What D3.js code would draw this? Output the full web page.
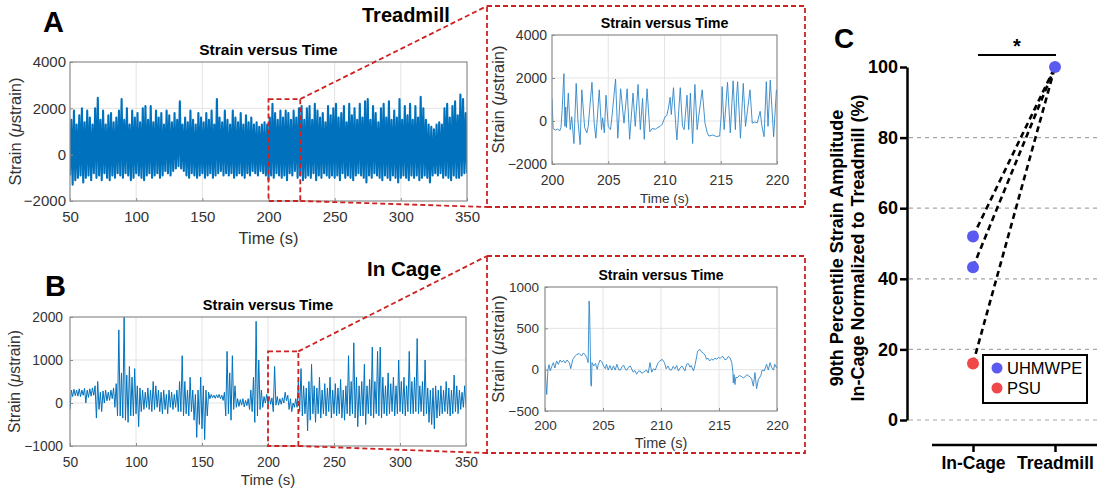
<!DOCTYPE html>
<html>
<head>
<meta charset="utf-8">
<script src="https://cdn.jsdelivr.net/npm/d3@7"></script>
<style>
  body { margin: 0; background: #fff; }
  text { font-family: "Liberation Sans", Arial, sans-serif; }
</style>
</head>
<body>
<div id="vizcontainer"></div>
<script>

// ---- data ----

// panels A/B overview: 2 s bins from 50 s, max and min strain per bin
const binStart = 50, binStep = 2;

const treadHi = [
  1500, 1900, 1300, 1700, 2000, 1400, 1900, 1600, 1300, 2000,
  2450, 1500, 1900, 1300, 1700, 1800, 1400, 1600, 1900, 2400,
  1500, 2000, 1300, 1900, 1600, 1800, 1400, 2000, 2100, 1500,
  2100, 1400, 1900, 1600, 1800, 1300, 1900, 1700, 1400, 1800,
  1500, 2300, 1300, 1600, 1400, 1900, 1500, 1300, 1800, 1600,
  1400, 1800, 1500, 1900, 1300, 2400, 1600, 1400, 1900, 1500,
  1300, 1900, 1600, 1400, 1800, 1300, 1700, 1400, 1600, 1300,
  1400, 1200, 1300, 1400, 1300, 1600, 2200, 1800, 1500, 1900,
  1600, 1900, 1800, 1500, 1900, 1600, 2000, 2100, 1500, 2000,
  2100, 1500, 2200, 1900, 1600, 1800, 1400, 2100, 1700, 2000,
  2200, 1600, 1800, 2100, 1400, 2200, 1700, 2000, 1500, 2200,
  1600, 2300, 2400, 1500, 2100, 1800, 1400, 2000, 2200, 1600,
  2300, 1500, 1900, 1600, 2400, 1500, 2100, 1700, 2200, 1500,
  2100, 1600, 2500, 2000, 1500, 1300, 1200, 1100, 1300, 1400,
  1300, 2000, 2200, 1600, 2100, 2300, 1700, 2600, 2400, 1800
];
const treadLo = [
  -900, -1300, -1100, -1000, -900, -1200, -1000, -900, -1100, -800,
  -1000, -900, -1100, -800, -1000, -1100, -900, -1000, -800, -900,
  -1000, -800, -900, -1100, -1000, -800, -900, -1000, -1100, -900,
  -800, -1000, -900, -800, -1000, -900, -700, -800, -900, -700,
  -600, -500, -600, -700, -900, -1000, -800, -900, -1000, -900,
  -800, -1000, -900, -800, -1000, -900, -800, -700, -900, -800,
  -900, -800, -1000, -900, -800, -900, -1000, -800, -900, -700,
  -800, -900, -700, -800, -900, -1100, -900, -1000, -800, -900,
  -1000, -900, -1100, -800, -900, -700, -1000, -900, -1100, -1000,
  -900, -1000, -800, -1100, -900, -1000, -800, -900, -1000, -900,
  -1000, -900, -1100, -800, -1000, -900, -1000, -1100, -900, -800,
  -900, -1000, -1200, -900, -1000, -800, -900, -1000, -1100, -900,
  -1000, -1100, -900, -1000, -1200, -1000, -900, -1000, -1100, -900,
  -1000, -900, -1100, -1000, -900, -1000, -1200, -900, -800, -900,
  -800, -1000, -900, -1000, -1100, -900, -1000, -1000, -900, -800
];

const cageHi = [
  300, 320, 300, 330, 300, 340, 300, 330, 350, 400,
  500, 250, 280, 300, 250, 300, 350, 450, 1700, 700,
  2000, 650, 850, 600, 800, 400, 350, 300, 250, 350,
  300, 500, 400, 300, 250, 300, 200, 300, 250, 200,
  300, 500, 1100, 500, 300, 600, 300, 200, 300, 600,
  400, 300, 250, 200, 180, 190, 200, 180, 250, 1200,
  700, 1100, 400, 100, 80, 100, 60, 100, 300, 600,
  1900, 1000, 300, 150, 200, 150, 120, 850, 150, 100,
  120, 250, 180, 100, 0, 100, 500, 800, 400, 350,
  500, 900, 400, 350, 600, 300, 450, 350, 600, 300,
  450, 350, 550, 300, 400, 1100, 500, 1400, 600, 400,
  500, 900, 400, 550, 1300, 500, 1200, 1300, 600, 400,
  700, 450, 600, 400, 1000, 500, 600, 400, 1200, 500,
  600, 1500, 400, 500, 1000, 350, 300, 350, 400, 300,
  400, 300, 500, 350, 300, 650, 400, 300, 250, 400
];
const cageLo = [
  -150, 150, 170, 160, 150, 180, 0, 130, 160, 180,
  -350, -150, -200, 0, 50, 60, 100, -100, -300, -300,
  -350, -400, -450, -300, -300, -250, -550, -200, -150, -100,
  -150, -200, -150, -100, -200, -250, -150, -250, -100, -150,
  -100, -200, -200, -300, -250, -300, -200, -400, -800, -500,
  -600, -850, -300, 100, 120, 110, 120, 100, 60, -300,
  -250, -400, -150, -100, -80, -50, -90, -60, -150, -200,
  -450, -300, -150, -100, 0, -50, -30, -200, -50, -50,
  -30, 0, 50, -150, -200, -100, -100, -200, -300, -250,
  -650, -400, -250, -450, -250, -350, -250, -300, -200, -350,
  -250, -300, -250, -350, -400, -250, -300, -250, -350, -550,
  -300, -300, -500, -250, -300, -350, -250, -300, -350, -250,
  -300, -250, -200, -300, -250, -200, -250, -300, -200, -250,
  -250, -200, -250, -200, -300, -250, -450, -500, -600, -350,
  -300, -250, -200, -250, -300, -250, -200, -250, -150, -100
];

// zoomed windows, [time (s), strain]
const treadZoom = [
  [200.0, 1050], [200.1, -350], [200.3, -420], [200.5, -380], [200.7, -450], [200.8, -300],
  [200.9, 500], [201.0, 1600], [201.06, 2200], [201.15, -250], [201.22, 650], [201.28, -300],
  [201.45, 1300], [201.62, -400], [201.75, 200], [201.95, -1050], [202.15, 1750], [202.3, 50],
  [202.5, -1100], [202.65, 1450], [202.9, -300], [203.1, -550], [203.22, -250], [203.55, 1800],
  [203.75, -100], [203.9, -800], [204.2, 1450], [204.4, -400], [204.5, 150], [204.65, -550],
  [204.8, 1200], [205.0, -250], [205.2, -400], [205.3, 50], [205.65, 1950], [205.85, -800],
  [206.1, 1500], [206.4, -100], [206.68, 1500], [206.9, -850], [207.2, 1300], [207.4, -250],
  [207.65, 1700], [207.85, -400], [208.05, 1050], [208.2, -850], [208.45, 1500], [208.7, -500],
  [208.9, -350], [209.2, -380], [209.4, -300], [209.6, -260], [209.8, -150], [210.05, 200],
  [210.2, 250], [210.35, 600], [210.5, 1100], [210.6, 300], [210.8, 1550], [211.0, -200],
  [211.1, -880], [211.4, 1550], [211.6, -250], [211.75, -400], [212.0, 1200], [212.15, -400],
  [212.3, 1300], [212.5, -1050], [212.7, 1700], [212.9, -400], [213.05, 250], [213.35, 1450],
  [213.6, -100], [213.8, -550], [213.95, -700], [214.3, -650], [214.6, -720], [214.9, -700],
  [215.05, 300], [215.12, 1600], [215.3, -400], [215.6, 1800], [215.85, -550], [216.1, 1870],
  [216.3, -400], [216.4, 1100], [216.5, 1830], [216.75, -800], [217.0, 1750], [217.2, -250],
  [217.6, 1450], [217.8, -100], [218.0, -50], [218.25, -80], [218.5, 450], [218.65, -200],
  [218.85, -730], [219.05, 1830], [219.2, -250], [219.4, 1900], [219.7, -730], [219.95, 1450],
  [220.0, 1200]
];

const cageZoom = [
  [200.0, 50], [200.08, -160], [200.15, -300], [200.25, 0], [200.35, 60], [200.45, -15],
  [200.6, 45], [200.72, 85], [200.85, 20], [201.0, 105], [201.15, 65], [201.3, 117],
  [201.45, 90], [201.6, 110], [201.75, 80], [201.9, 117], [202.1, 85], [202.22, 12],
  [202.4, 125], [202.6, 165], [202.75, 185], [202.95, 195], [203.15, 165], [203.3, 200],
  [203.45, 185], [203.6, 145], [203.72, 85], [203.8, 830], [203.84, 730], [203.9, 320],
  [203.95, -180], [204.0, -200], [204.05, 85], [204.2, 45], [204.35, 75], [204.5, 5],
  [204.6, 65], [204.75, 117], [204.9, 95], [205.05, 45], [205.2, 12], [205.3, 65],
  [205.45, -5], [205.6, 50], [205.75, -5], [205.9, 45], [206.05, -5], [206.2, 65],
  [206.35, 0], [206.5, -5], [206.65, 40], [206.8, 50], [206.95, 0], [207.05, -5],
  [207.2, 30], [207.35, 45], [207.6, -30], [207.75, -10], [207.9, -55], [208.05, -20],
  [208.2, -15], [208.35, -45], [208.5, -30], [208.75, -5], [208.9, -40], [209.05, 85],
  [209.2, -30], [209.35, 10], [209.5, -5], [209.75, 85], [209.9, 105], [210.1, 125],
  [210.3, 85], [210.45, 10], [210.6, 45], [210.75, 0], [210.9, -5], [211.05, 40],
  [211.2, 10], [211.35, 50], [211.5, -15], [211.65, 20], [211.8, 45], [212.07, -15],
  [212.2, 65], [212.35, 75], [212.5, 30], [212.6, 50], [212.8, -15], [212.95, 65],
  [213.16, 225], [213.36, 245], [213.5, 215], [213.65, 200], [213.8, 175], [213.93, 125],
  [214.05, 140], [214.2, 105], [214.35, 130], [214.5, 115], [214.65, 140], [214.8, 125],
  [214.95, 150], [215.1, 135], [215.25, 160], [215.37, 155], [215.5, 120], [215.65, 125],
  [215.8, 160], [215.95, 145], [216.1, 85], [216.2, -30], [216.23, -160], [216.3, -60],
  [216.37, -180], [216.45, -95], [216.6, -95], [216.75, -70], [216.95, -85], [217.1, -100],
  [217.25, -85], [217.4, -60], [217.55, -75], [217.7, -90], [217.82, -115], [217.96, -200],
  [218.1, -35], [218.24, -230], [218.4, -115], [218.6, -75], [218.72, -5], [218.9, -15],
  [219.1, 65], [219.25, -5], [219.4, 85], [219.55, 25], [219.7, -5], [219.8, 65],
  [219.95, 25], [220.0, 45]
];

const treadWindow = [200, 224];
const cageWindow = [200, 223];
const treadBoxTop = 2400;
const cageBoxTop = 1200;

// panel C
const groups = ['In-Cage', 'Treadmill'];
const uhmwpeInCage = [52, 43.3];
const psuInCage = [16];
const treadmillNorm = 100;
const cTicks = [0, 20, 40, 60, 80, 100];

const timeTicks = [50, 100, 150, 200, 250, 300, 350];
const zoomTicks = [200, 205, 210, 215, 220];

// ---- drawing ----

const width = 1097, height = 492;
const lineBlue = '#0072BD';
const boxRed = '#cc2222';

let viz = d3.select('#vizcontainer')
  .append('svg')
  .attr('width', width)
  .attr('height', height)
  .style('background', '#fff');

let clipId = 0;

function matlabAxes(o) {
  const g = viz.append('g');
  const x = d3.scaleLinear().domain(o.xd).range(o.xr);
  const y = d3.scaleLinear().domain(o.yd).range(o.yr);

  g.selectAll('.gx').data(o.xt.slice(1, -1)).join('line')
    .attr('x1', d => x(d)).attr('x2', d => x(d))
    .attr('y1', o.yr[0]).attr('y2', o.yr[1])
    .attr('stroke', '#e4e4e4').attr('stroke-width', 1);
  g.selectAll('.gy').data(o.yt.slice(1, -1)).join('line')
    .attr('x1', o.xr[0]).attr('x2', o.xr[1])
    .attr('y1', d => y(d)).attr('y2', d => y(d))
    .attr('stroke', '#e4e4e4').attr('stroke-width', 1);

  const id = 'clip' + (clipId++);
  g.append('clipPath').attr('id', id)
    .append('rect')
    .attr('x', o.xr[0]).attr('y', o.yr[1])
    .attr('width', o.xr[1] - o.xr[0]).attr('height', o.yr[0] - o.yr[1]);

  g.append('path')
    .datum(o.data)
    .attr('clip-path', `url(#${id})`)
    .attr('fill', 'none')
    .attr('stroke', o.color || lineBlue)
    .attr('stroke-width', o.lw)
    .attr('stroke-linejoin', 'round')
    .attr('d', d3.line().x(d => x(d[0])).y(d => y(d[1])));

  g.append('rect')
    .attr('x', o.xr[0]).attr('y', o.yr[1])
    .attr('width', o.xr[1] - o.xr[0]).attr('height', o.yr[0] - o.yr[1])
    .attr('fill', 'none').attr('stroke', '#8c8c8c').attr('stroke-width', 1.2);

  const fmt = d3.format('d');
  const xa = g.append('g')
    .attr('transform', `translate(0,${o.yr[0]})`)
    .call(d3.axisBottom(x).tickValues(o.xt).tickFormat(fmt)
      .tickSize(-3).tickSizeOuter(0).tickPadding(o.xpad));
  const ya = g.append('g')
    .attr('transform', `translate(${o.xr[0]},0)`)
    .call(d3.axisLeft(y).tickValues(o.yt).tickFormat(fmt)
      .tickSize(-3).tickSizeOuter(0).tickPadding(o.ypad));
  [xa, ya].forEach(a => {
    a.select('.domain').remove();
    a.selectAll('line').attr('stroke', '#8c8c8c');
    a.selectAll('text').attr('fill', '#333').style('font-size', o.tfs + 'px')
      .style('font-family', '"Liberation Sans", Arial, sans-serif');
  });

  const cx = (o.xr[0] + o.xr[1]) / 2;
  g.append('text')
    .attr('x', cx).attr('y', o.yr[1] - 7)
    .attr('text-anchor', 'middle')
    .style('font-size', o.hfs + 'px').style('font-weight', 'bold')
    .text('Strain versus Time');
  g.append('text')
    .attr('x', cx).attr('y', o.xly)
    .attr('text-anchor', 'middle')
    .attr('fill', '#333')
    .style('font-size', o.xlfs + 'px')
    .text('Time (s)');
  const yl = g.append('text')
    .attr('transform', `translate(${o.ylx},${(o.yr[0] + o.yr[1]) / 2}) rotate(-90)`)
    .attr('text-anchor', 'middle')
    .attr('fill', '#333')
    .style('font-size', o.ylfs + 'px');
  yl.append('tspan').text('Strain (');
  yl.append('tspan').style('font-style', 'italic').text('\u03bc');
  yl.append('tspan').text('strain)');
  return { x, y };
}

function envelope(hi, lo) {
  const pts = [];
  hi.forEach((h, i) => {
    const t = binStart + i * binStep;
    pts.push([t, lo[i]]);
    pts.push([t + binStep / 2, h]);
  });
  pts.push([binStart + hi.length * binStep, lo[lo.length - 1]]);
  return pts;
}

// panel A overview
const A = matlabAxes({
  xd: [50, 350], xr: [70, 467], yd: [-2000, 4000], yr: [201, 62],
  xt: timeTicks, yt: [-2000, 0, 2000, 4000],
  data: envelope(treadHi, treadLo), lw: 2.1,
  xpad: 10, ypad: 4, tfs: 15, hfs: 15.5, xlfs: 16.5, ylfs: 16.5,
  xly: 244, ylx: 21
});

// panel A zoom
const Az = matlabAxes({
  xd: [200, 220], xr: [552, 777], yd: [-2000, 4000], yr: [164, 35],
  xt: zoomTicks, yt: [-2000, 0, 2000, 4000],
  data: treadZoom, lw: 0.9, color: '#2f86c8',
  xpad: 11, ypad: 5, tfs: 14, hfs: 14.3, xlfs: 13.5, ylfs: 16.5,
  xly: 203, ylx: 504
});

// panel B overview
const B = matlabAxes({
  xd: [50, 350], xr: [70, 466], yd: [-1000, 2000], yr: [446, 317],
  xt: timeTicks, yt: [-1000, 0, 1000, 2000],
  data: envelope(cageHi, cageLo), lw: 1,
  xpad: 11, ypad: 7, tfs: 13.8, hfs: 14.6, xlfs: 15, ylfs: 15.7,
  xly: 485, ylx: 20
});

// panel B zoom
const Bz = matlabAxes({
  xd: [200, 220], xr: [545, 777], yd: [-500, 1000], yr: [411, 287],
  xt: zoomTicks, yt: [-500, 0, 500, 1000],
  data: cageZoom, lw: 0.9, color: '#2f86c8',
  xpad: 9, ypad: 6, tfs: 13.5, hfs: 14, xlfs: 14.5, ylfs: 16.4,
  xly: 448, ylx: 504
});

// zoom boxes and connectors
function zoomCallout(ax, win, top, inset) {
  const x0 = ax.x(win[0]), x1 = ax.x(win[1]);
  const y0 = ax.y(top), y1 = ax.y(ax.y.domain()[0]);
  const dash = '5,3';
  viz.append('rect')
    .attr('x', x0).attr('y', y0).attr('width', x1 - x0).attr('height', y1 - y0)
    .attr('fill', 'none').attr('stroke', boxRed).attr('stroke-width', 1.8)
    .attr('stroke-dasharray', dash);
  viz.append('rect')
    .attr('x', inset[0]).attr('y', inset[1]).attr('width', inset[2]).attr('height', inset[3])
    .attr('fill', 'none').attr('stroke', boxRed).attr('stroke-width', 1.8)
    .attr('stroke-dasharray', dash);
  viz.append('line')
    .attr('x1', x1).attr('y1', y0).attr('x2', inset[0]).attr('y2', inset[1])
    .attr('stroke', boxRed).attr('stroke-width', 1.8).attr('stroke-dasharray', dash);
  viz.append('line')
    .attr('x1', x1).attr('y1', y1).attr('x2', inset[0]).attr('y2', inset[1] + inset[3])
    .attr('stroke', boxRed).attr('stroke-width', 1.8).attr('stroke-dasharray', dash);
}
zoomCallout(A, treadWindow, treadBoxTop, [487, 6, 318, 201]);
zoomCallout(B, cageWindow, cageBoxTop, [487, 256, 318, 197]);

// panel letters and headings
function label(txt, x, y, fs) {
  viz.append('text').attr('x', x).attr('y', y)
    .style('font-size', fs + 'px').style('font-weight', 'bold').text(txt);
}
label('A', 43, 32, 29);
label('B', 45, 296, 29);
label('C', 834, 48, 28);
label('Treadmill', 362, 22, 20);
label('In Cage', 367, 276, 20.5);

// panel C
const yC = d3.scaleLinear().domain([0, 100]).range([420, 67]);
const xC = d3.scalePoint().domain(groups).range([973, 1055]);
const gC = viz.append('g');

gC.selectAll('.grid').data(cTicks.slice(0, -1)).join('line')
  .attr('x1', 909).attr('x2', width)
  .attr('y1', d => yC(d)).attr('y2', d => yC(d))
  .attr('stroke', '#a6a6a6').attr('stroke-width', 1.2).attr('stroke-dasharray', '4,4');

const yAx = gC.append('g')
  .attr('transform', 'translate(907,0)')
  .call(d3.axisLeft(yC).tickValues(cTicks).tickSize(7).tickSizeOuter(0).tickPadding(2));
yAx.select('.domain').attr('stroke', '#000').attr('stroke-width', 2.5);
yAx.selectAll('line').attr('stroke', '#000').attr('stroke-width', 2.5);
yAx.selectAll('text').attr('fill', '#000')
  .style('font-size', '18px').style('font-weight', 'bold')
  .style('font-family', '"Liberation Sans", Arial, sans-serif');

const xAx = gC.append('g')
  .attr('transform', 'translate(0,445)')
  .call(d3.axisBottom(xC).tickSize(7).tickSizeOuter(0).tickPadding(5));
xAx.select('.domain').remove();
xAx.append('line').attr('x1', 932).attr('x2', width).attr('y1', 0).attr('y2', 0)
  .attr('stroke', '#000').attr('stroke-width', 2.5);
xAx.selectAll('.tick line').attr('stroke', '#000').attr('stroke-width', 2.5);
xAx.selectAll('text').attr('fill', '#000')
  .style('font-size', '17.5px').style('font-weight', 'bold')
  .style('font-family', '"Liberation Sans", Arial, sans-serif');

const yTitle = gC.append('text')
  .attr('text-anchor', 'middle')
  .style('font-size', '18px').style('font-weight', 'bold');
yTitle.append('tspan').attr('x', 0).attr('y', 0).text('90th Percentile Strain Amplitude');
yTitle.append('tspan').attr('x', 0).attr('y', 20.5).text('In-Cage Normalized to Treadmill (%)');
yTitle.attr('transform', 'translate(843,248) rotate(-90)');

// pairs joined to treadmill
const pairs = uhmwpeInCage.map(v => ({ v, c: '#5a5af0' }))
  .concat(psuInCage.map(v => ({ v, c: '#f04848' })));

gC.selectAll('.pair').data(pairs).join('line')
  .attr('x1', xC('In-Cage')).attr('y1', d => yC(d.v))
  .attr('x2', xC('Treadmill')).attr('y2', yC(treadmillNorm))
  .attr('stroke', '#000').attr('stroke-width', 2.6).attr('stroke-dasharray', '6,4');

gC.selectAll('.dot').data(pairs.slice().reverse()).join('circle')
  .attr('cx', xC('In-Cage')).attr('cy', d => yC(d.v)).attr('r', 6)
  .attr('fill', d => d.c);
gC.append('circle')
  .attr('cx', xC('Treadmill')).attr('cy', yC(treadmillNorm)).attr('r', 6)
  .attr('fill', '#5a5af0');

// significance bar
gC.append('line')
  .attr('x1', xC('In-Cage') + 5).attr('x2', xC('Treadmill') + 1)
  .attr('y1', 55).attr('y2', 55)
  .attr('stroke', '#000').attr('stroke-width', 2.2);
gC.append('text')
  .attr('x', (xC('In-Cage') + xC('Treadmill')) / 2 + 3).attr('y', 53)
  .attr('text-anchor', 'middle')
  .style('font-size', '20px').style('font-weight', 'bold').text('*');

// legend
const leg = gC.append('g').attr('transform', 'translate(983,355)');
leg.append('rect').attr('width', 104).attr('height', 48)
  .attr('fill', '#fff').attr('stroke', '#000').attr('stroke-width', 2);
const legItems = [{ name: 'UHMWPE', c: '#5a5af0' }, { name: 'PSU', c: '#f04848' }];
legItems.forEach((d, i) => {
  leg.append('circle').attr('cx', 14).attr('cy', 13 + i * 20).attr('r', 5.5).attr('fill', d.c);
  leg.append('text').attr('x', 24).attr('y', 19 + i * 20)
    .style('font-size', '16.5px').text(d.name);
});

</script>
</body>
</html>
